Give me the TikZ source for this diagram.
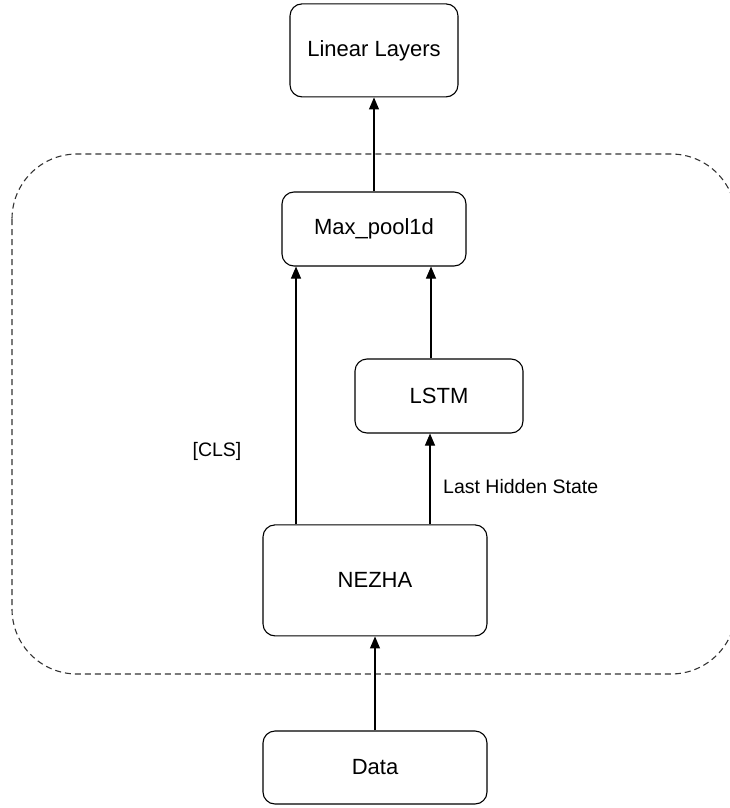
\documentclass[tikz,border=0pt]{standalone}
\usepackage{fontspec}
\setmainfont{Liberation Sans}
\usetikzlibrary{positioning,arrows.meta,calc}

\begin{document}
\begin{tikzpicture}[x=1pt,y=-1pt,
	box/.style={draw,line width=1.1pt,rounded corners=12pt,align=center,inner sep=0pt,font=\fontsize{22}{26}\selectfont},
	arr/.style={line width=1.1pt,-{Triangle[length=12pt,width=10pt]}},
	lbl/.style={font=\fontsize{19.5}{23}\selectfont,inner sep=0pt}]
		\useasboundingbox (0,0) rectangle (729,808);
		% outer dashed group
		\draw[dashed,dash pattern=on 6pt off 4pt,line width=1.1pt,draw=black!80,rounded corners=65pt] (12,154) rectangle (736,674);

		\node[box,minimum width=224pt,minimum height=73pt] (data) at (375,767.5) {Data};
		\node[box,minimum width=224pt,minimum height=111pt] (nezha) [above=94pt of data] {NEZHA};
		\node[box,minimum width=168pt,minimum height=74pt] (lstm) at (439,396) {LSTM};
		\node[box,minimum width=184pt,minimum height=74pt] (maxpool) at (374,229) {Max\_pool1d};
		\node[box,minimum width=168pt,minimum height=93pt] (linear) [above=94pt of maxpool] {Linear Layers};

		\draw[arr] (data) -- (nezha);
		\draw[arr] ([xshift=-79pt]nezha.north) -- ([xshift=-79pt]nezha.north |- maxpool.south);
		\draw[arr] ([xshift=55pt]nezha.north) -- ([xshift=55pt]nezha.north |- lstm.south);
		\draw[arr] ([xshift=-8pt]lstm.north) -- ([xshift=-8pt]lstm.north |- maxpool.south);
		\draw[arr] (maxpool) -- (linear);

		\node[lbl] (cls) at (217,451) {[CLS]};
		\node[lbl,anchor=west] (lhs) at (443,487) {Last Hidden State};
\end{tikzpicture}
\end{document}
